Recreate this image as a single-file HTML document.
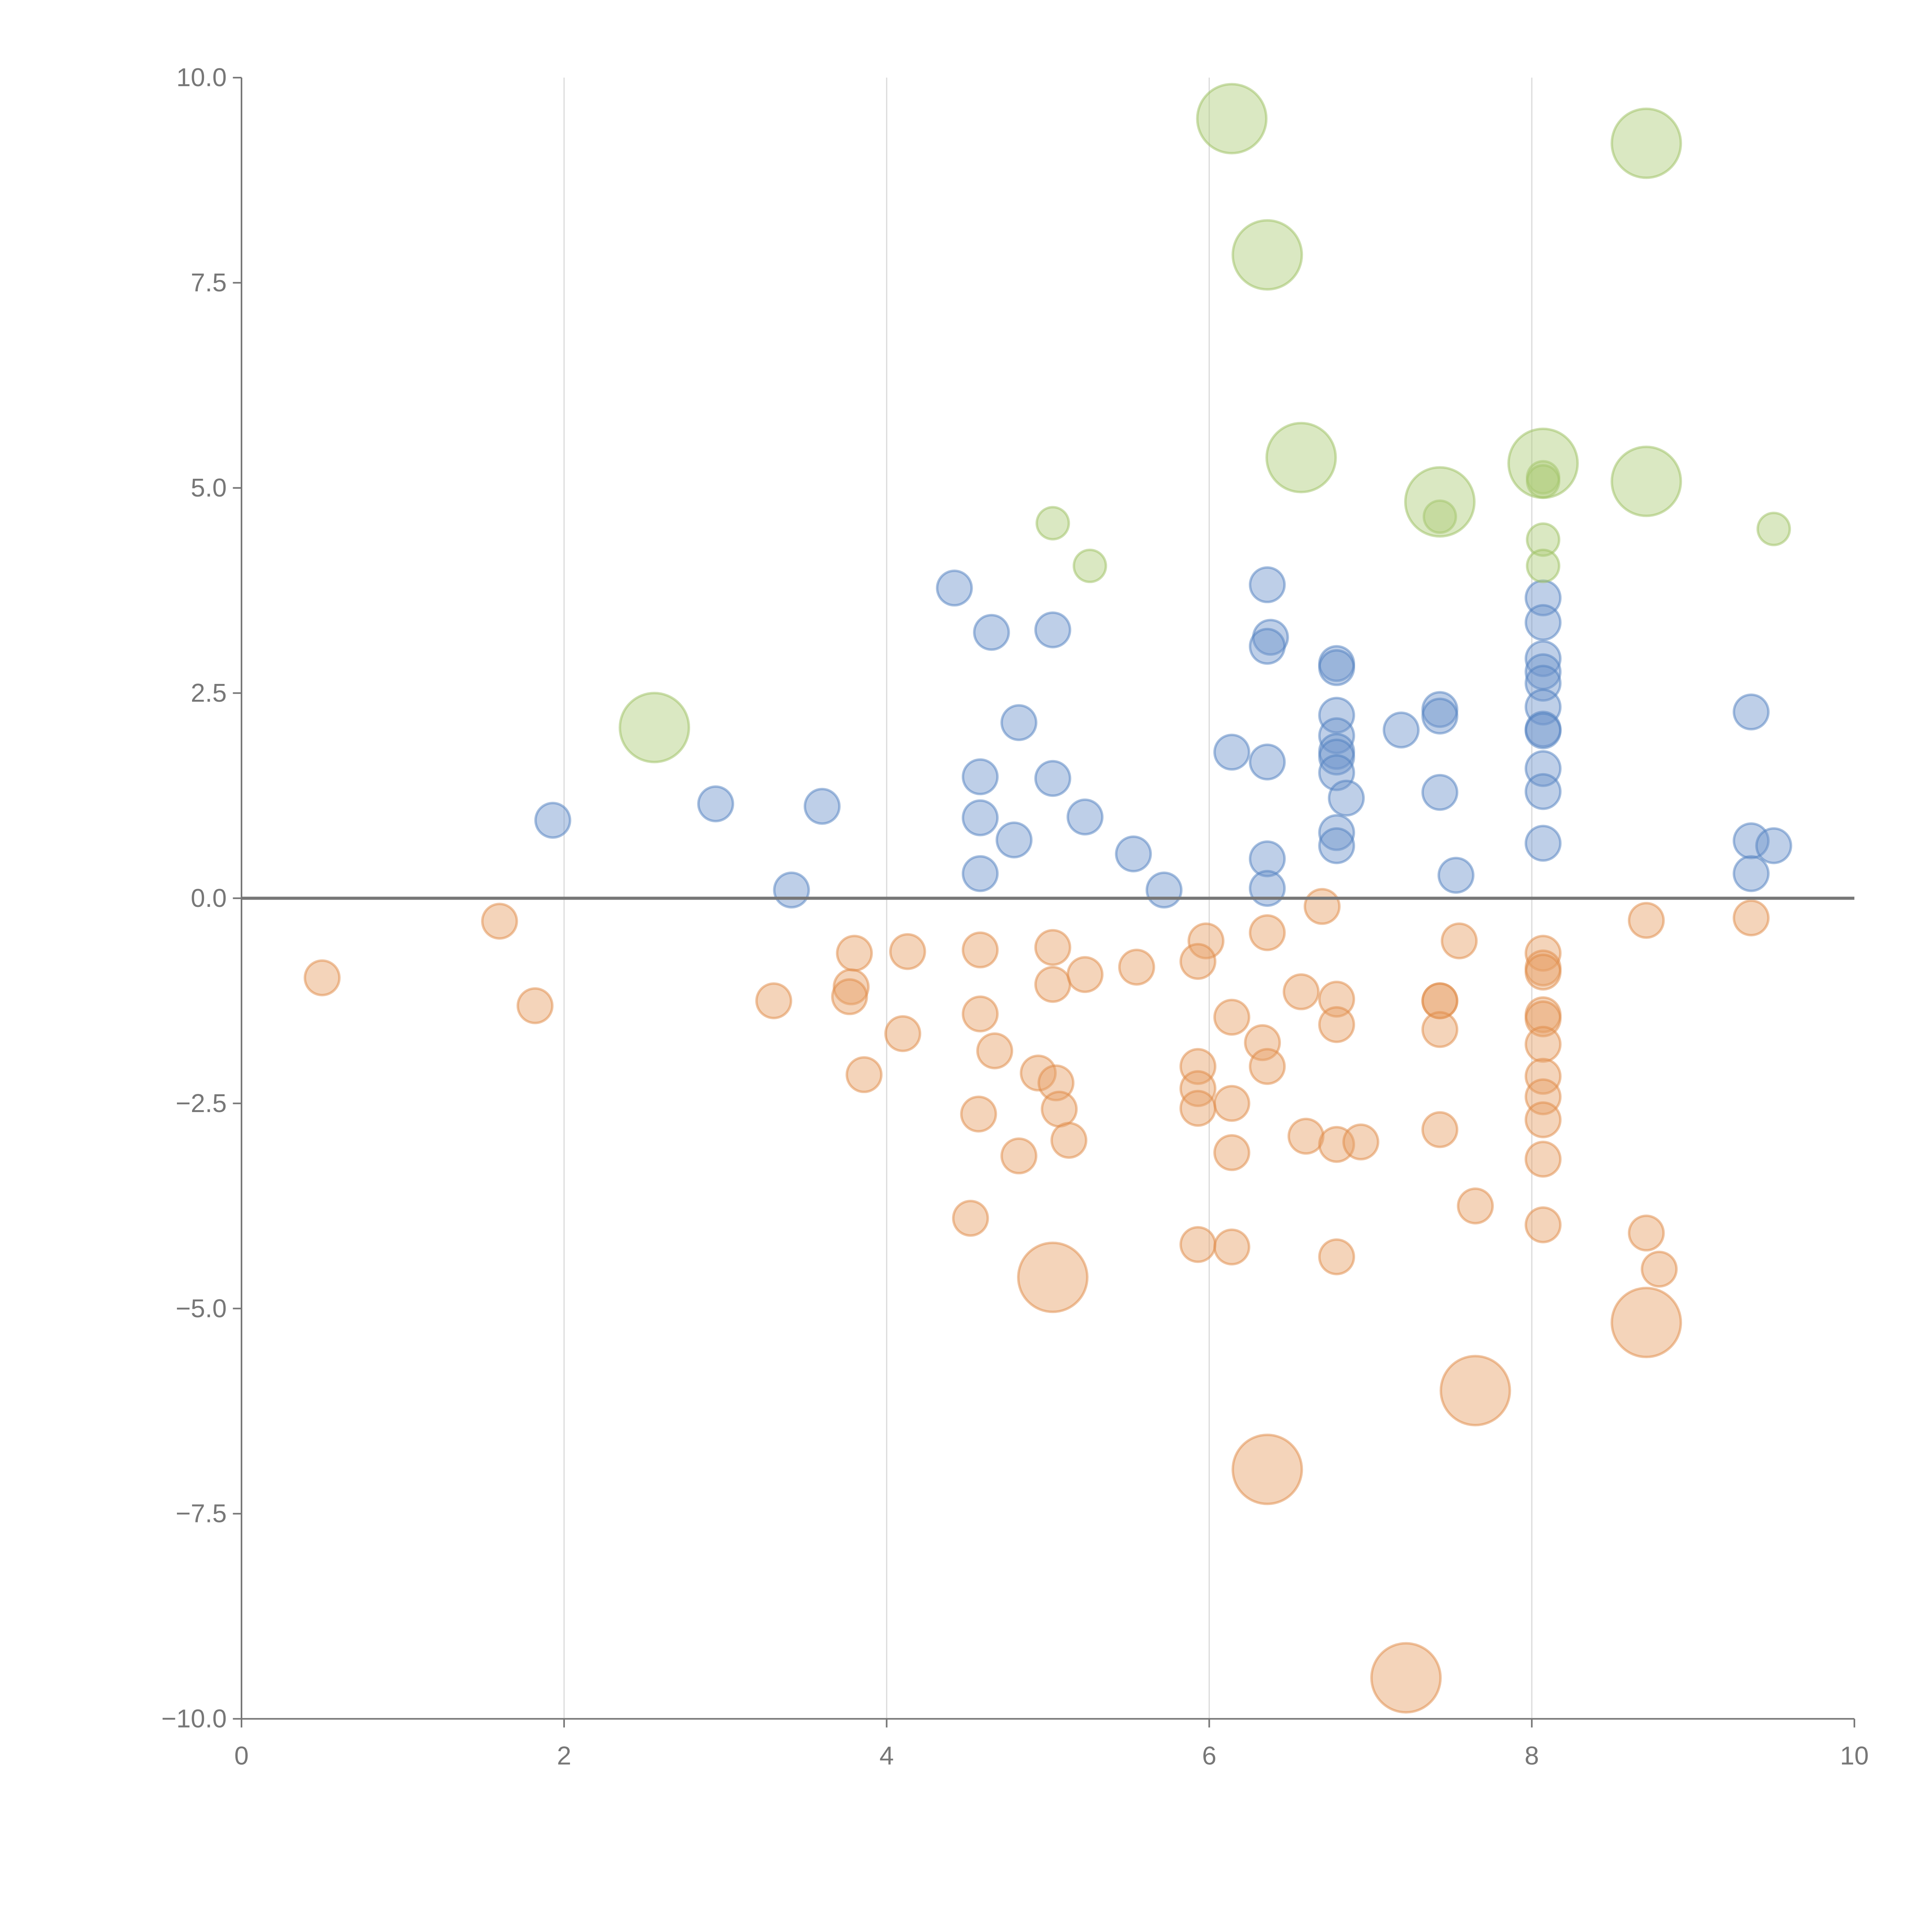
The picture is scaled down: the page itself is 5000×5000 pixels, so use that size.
<!DOCTYPE html>
<html><head><meta charset="utf-8">
<style>html,body{margin:0;padding:0;background:#fff}svg{display:block}</style>
</head><body>
<svg id="chart" width="5000" height="5000" viewBox="0 0 1568 1568" xmlns="http://www.w3.org/2000/svg" font-family="Liberation Sans, sans-serif">
<g id="grid"></g>
<g id="marks"></g>
<g id="axes"></g>
</svg>
<script>
const xTicks = [0, 2, 4, 6, 8, 10];
const yTicks = [10, 7.5, 5, 2.5, 0, -2.5, -5, -7.5, -10];
const blueX = [1.93,2.94,3.6,3.41,4.42,4.65,5.03,4.82,4.58,4.58,4.58,4.79,5.03,5.23,5.53,5.72,6.14,6.36,6.38,6.36,6.36,6.36,6.36,6.79,6.79,6.79,6.79,6.79,6.79,6.79,6.85,6.79,6.79,7.19,7.43,7.43,7.43,7.53,8.07,8.07,8.07,8.07,8.07,8.07,8.07,8.07,8.07,8.07,8.07,9.36,9.36,9.36,9.5];
const blueY = [0.95,1.15,1.12,0.1,3.78,3.24,3.27,2.14,1.48,0.98,0.3,0.71,1.46,0.99,0.54,0.1,1.78,3.82,3.18,3.07,1.66,0.48,0.12,2.86,2.81,2.23,1.98,1.79,1.72,1.53,1.22,0.8,0.64,2.05,2.3,2.22,1.29,0.28,3.66,3.36,2.92,2.76,2.62,2.33,2.06,2.04,1.58,1.3,0.67,2.27,0.7,0.3,0.64];
const orangeX = [0.5,1.6,1.82,3.3,3.8,3.78,3.77,3.86,4.13,4.1,4.58,4.58,4.67,4.57,4.52,4.82,5.03,5.03,4.94,5.05,5.07,5.13,5.23,5.55,5.98,5.93,5.93,5.93,5.93,5.93,6.14,6.14,6.14,6.14,6.33,6.36,6.36,6.57,6.6,6.7,6.79,6.79,6.79,6.79,6.94,7.43,7.43,7.43,7.43,7.55,7.65,8.07,8.07,8.07,8.07,8.07,8.07,8.07,8.07,8.07,8.07,8.07,8.71,8.71,8.79,9.36];
const orangeY = [-0.97,-0.28,-1.31,-1.25,-0.67,-1.08,-1.2,-2.15,-0.65,-1.65,-0.63,-1.41,-1.86,-2.63,-3.9,-3.14,-0.6,-1.05,-2.13,-2.25,-2.57,-2.95,-0.93,-0.84,-0.52,-0.77,-2.05,-2.32,-2.56,-4.22,-1.45,-2.5,-3.1,-4.25,-1.76,-2.05,-0.42,-1.14,-2.9,-0.1,-1.23,-1.54,-3.0,-4.37,-2.97,-1.25,-1.25,-1.6,-2.82,-0.52,-3.75,-0.67,-0.85,-0.9,-1.42,-1.47,-1.78,-2.17,-2.42,-2.7,-3.18,-3.98,-0.27,-4.08,-4.52,-0.24];
const orangeBigX = [5.03,8.71,7.65,6.36,7.22];
const orangeBigY = [-4.62,-5.17,-6.0,-6.96,-9.5];
const greenX = [5.03,5.26,7.43,8.07,8.07,8.07,8.07,9.5];
const greenY = [4.57,4.05,4.65,5.13,5.08,4.37,4.05,4.5];
const greenBigX = [2.56,6.14,6.36,6.57,7.43,8.07,8.71,8.71];
const greenBigY = [2.08,9.5,7.84,5.37,4.83,5.3,9.2,5.08];

const NS = "http://www.w3.org/2000/svg";
const L = 196, R = 1505, T = 63, B = 1395;
const xs = v => L + (v - 0) / 10 * (R - L);
const ys = v => B - (v + 10) / 20 * (B - T);
function mk(tag, attrs, parent) {
  const e = document.createElementNS(NS, tag);
  for (const k in attrs) e.setAttribute(k, attrs[k]);
  parent.appendChild(e);
  return e;
}
const grid = document.getElementById('grid');
const marks = document.getElementById('marks');
const axes = document.getElementById('axes');

xTicks.forEach(t => {
  if (t > 0 && t < 10) {
    const g = mk('line', {x1: xs(t), x2: xs(t), y1: T, y2: B, stroke: '#dcdcdc', 'stroke-width': 1}, grid);
    
    
  }
});

function series(X, Y, r, fill, stroke, name) {
  X.forEach((x, i) => {
    const c = mk('circle', {cx: xs(x), cy: ys(Y[i]), r: r, fill: fill, 'fill-opacity': 0.45, stroke: stroke, 'stroke-opacity': 0.5, 'stroke-width': 2}, marks);
    
    
  });
}
series(blueX, blueY, 14, '#6f94cb', '#4f7fc0', 'blue-bubble');
series(orangeX, orangeY, 14, '#e6a066', '#e08a46', 'orange-bubble');
series(orangeBigX, orangeBigY, 28, '#e6a066', '#e08a46', 'orange-large-bubble');
series(greenX, greenY, 13, '#accb78', '#9cc060', 'green-bubble');
series(greenBigX, greenBigY, 28, '#accb78', '#9cc060', 'green-large-bubble');

const zl = mk('line', {x1: L, x2: R, y1: ys(0), y2: ys(0), stroke: '#777', 'stroke-width': 2.5}, axes);


const ya = mk('line', {x1: L, x2: L, y1: T, y2: B, stroke: '#777', 'stroke-width': 1.3}, axes);


const xa = mk('line', {x1: L, x2: R, y1: B, y2: B, stroke: '#777', 'stroke-width': 1.3}, axes);



yTicks.forEach(t => {
  const tk = mk('line', {x1: L - 7, x2: L, y1: ys(t), y2: ys(t), stroke: '#777', 'stroke-width': 1.3}, axes);
  
  
  const tx = mk('text', {x: L - 12, y: ys(t) + 7, 'text-anchor': 'end', 'font-size': 21, fill: '#777'}, axes);
  tx.textContent = (t < 0 ? '\u2212' + Math.abs(t).toFixed(1) : t.toFixed(1));
  
  
});
xTicks.forEach(t => {
  const tk = mk('line', {x1: xs(t), x2: xs(t), y1: B, y2: B + 7, stroke: '#777', 'stroke-width': 1.3}, axes);
  
  
  const tx = mk('text', {x: xs(t), y: B + 37, 'text-anchor': 'middle', 'font-size': 21, fill: '#777'}, axes);
  tx.textContent = String(t);
  
  
});
</script>
</body></html>
